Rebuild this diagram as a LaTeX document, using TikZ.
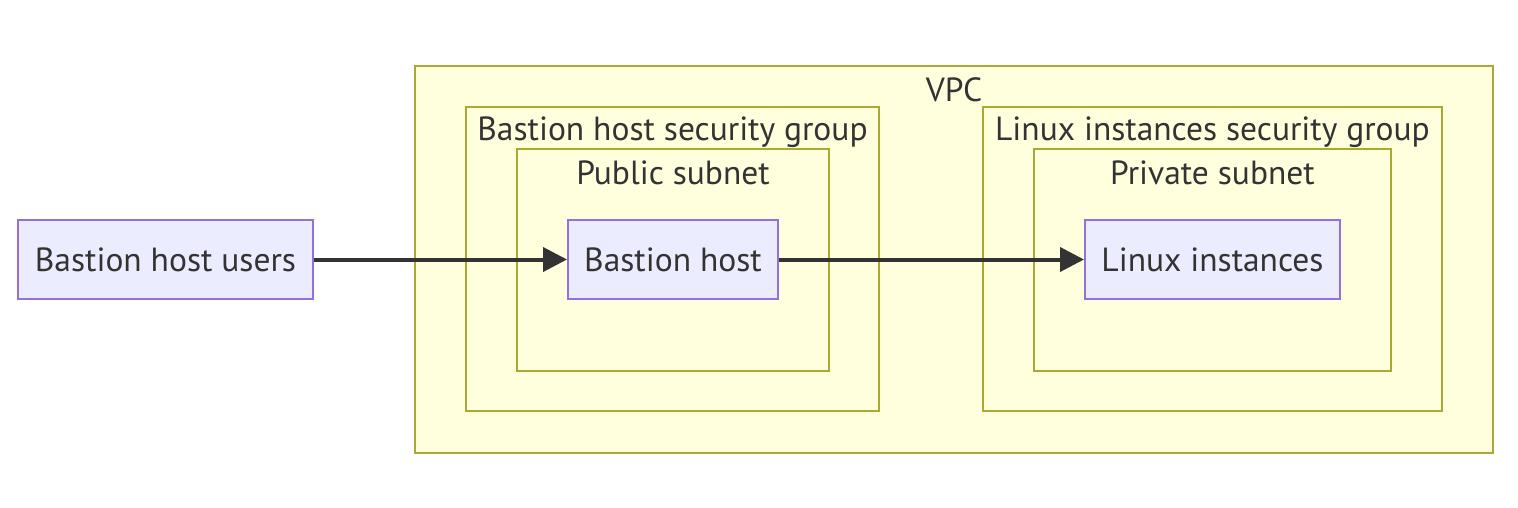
\documentclass[tikz,border=0pt]{standalone}
\usepackage{fontspec}
\setmainfont{PT Sans}
\usetikzlibrary{arrows.meta,positioning}
\definecolor{hostfill}{HTML}{ECECFF}
\definecolor{hostline}{HTML}{9370DB}
\definecolor{groupfill}{HTML}{FFFFDE}
\definecolor{groupline}{HTML}{AAAA33}
\definecolor{ink}{HTML}{333333}
\tikzset{every node/.style={font=\fontsize{33.5}{40}\selectfont,text=ink},
         host/.style={draw=hostline,fill=hostfill,line width=2pt,inner sep=0pt,
                      minimum height=79pt},
         group/.style={draw=groupline,fill=groupfill,line width=2pt,inner sep=0pt},
         grouplabel/.style={inner sep=0pt,anchor=center},
         link/.style={draw=ink,line width=4pt,-{Triangle[length=24pt,width=24pt]}}}

\begin{document}
\begin{tikzpicture}[x=1pt,y=-1pt]
    \useasboundingbox (0,0) rectangle (1518,508);
    % clusters
    \node[group,minimum width=1078pt,minimum height=387pt] (vpc) at (954,259.5) {};
    \node[grouplabel] at ([yshift=-25pt]vpc.north) {VPC};
    \node[group,minimum width=413pt,minimum height=304pt] (bastionsg) at (672.5,259) {};
    \node[grouplabel] at ([yshift=-26pt]bastionsg.north) {Bastion host security group};
    \node[group,minimum width=312pt,minimum height=222pt] (public) at (673,260) {};
    \node[grouplabel] at ([yshift=-25pt]public.north) {Public subnet};
    \node[group,minimum width=459pt,minimum height=304pt] (linuxsg) at (1212.5,259) {};
    \node[grouplabel] at ([yshift=-26pt]linuxsg.north) {Linux instances security group};
    \node[group,minimum width=357pt,minimum height=222pt] (private) at (1212.5,260) {};
    \node[grouplabel] at ([yshift=-25pt]private.north) {Private subnet};
    % hosts
    \node[host,minimum width=295pt] (users) at (165.5,259.5) {Bastion host users};
    \node[host,minimum width=210pt] (bastion) at (673,259.5) {Bastion host};
    \node[host,minimum width=255pt] (linux) at (1212.5,259.5) {Linux instances};
    % links
    \draw[link] (users) -- (bastion);
    \draw[link] (bastion) -- (linux);
\end{tikzpicture}
\end{document}
